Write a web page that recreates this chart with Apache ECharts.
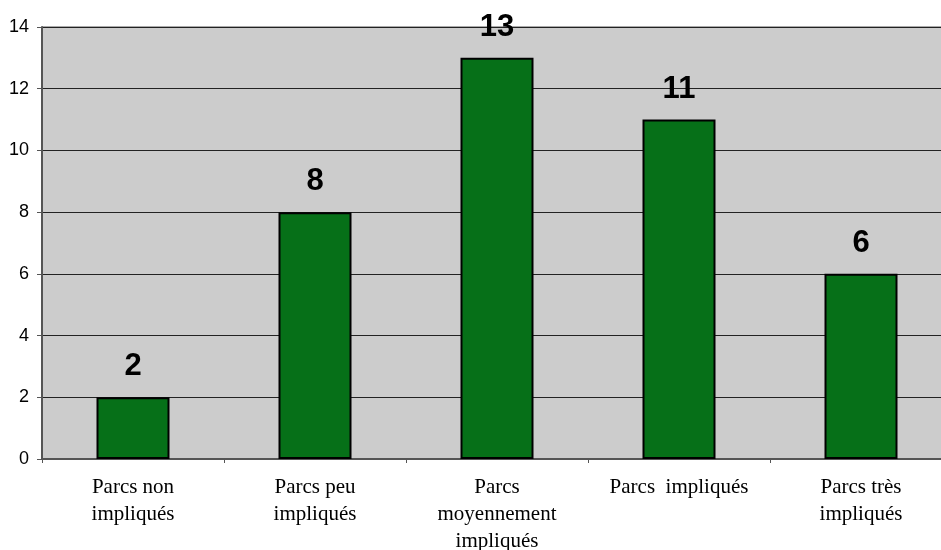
<!DOCTYPE html>
<html>
<head>
<meta charset="utf-8">
<script src="https://cdn.jsdelivr.net/npm/echarts@6/dist/echarts.min.js"></script>
<style>
  html, body { margin: 0; padding: 0; background: #fff; overflow: hidden; }
  #main { width: 941px; height: 550px; }
</style>
</head>
<body>
<div id="main"></div>
<script>
var categories = ['Parcs non\nimpliqués', 'Parcs peu\nimpliqués', 'Parcs\nmoyennement\nimpliqués', 'Parcs  impliqués', 'Parcs très\nimpliqués'];
var values = [2, 8, 13, 11, 6];
var yTicks = [0, 2, 4, 6, 8, 10, 12, 14];

var chart = echarts.init(document.getElementById('main'));
chart.setOption({
  animation: false,
  grid: {
    left: 42, right: -11, top: 27, bottom: 91,
    outerBoundsMode: 'none',
    containLabel: false,
    show: true,
    backgroundColor: '#cccccc',
    borderColor: '#555555',
    borderWidth: 1
  },
  xAxis: {
    type: 'category',
    data: categories,
    axisLine: { lineStyle: { color: '#555555', width: 2 } },
    axisTick: { show: true, length: 4, lineStyle: { color: '#555555' } },
    axisLabel: {
      color: '#000',
      fontFamily: 'Liberation Serif',
      fontSize: 21,
      lineHeight: 27,
      margin: 15,
      interval: 0
    }
  },
  yAxis: {
    type: 'value',
    min: yTicks[0],
    max: yTicks[yTicks.length - 1],
    interval: 2,
    axisLine: { show: true, lineStyle: { color: '#555555', width: 2 } },
    axisTick: { show: true, length: 5, lineStyle: { color: '#555555' } },
    axisLabel: {
      color: '#000',
      fontFamily: 'Liberation Sans',
      fontSize: 18,
      margin: 13
    },
    splitLine: { lineStyle: { color: '#222', width: 1 } }
  },
  series: [{
    type: 'bar',
    data: values,
    barWidth: 73,
    itemStyle: { color: '#067018', borderColor: '#000', borderWidth: 2 },
    label: {
      show: true,
      position: 'top',
      distance: 15,
      color: '#000',
      fontFamily: 'Liberation Sans',
      fontWeight: 'bold',
      fontSize: 31
    }
  }]
});
</script>
</body>
</html>
